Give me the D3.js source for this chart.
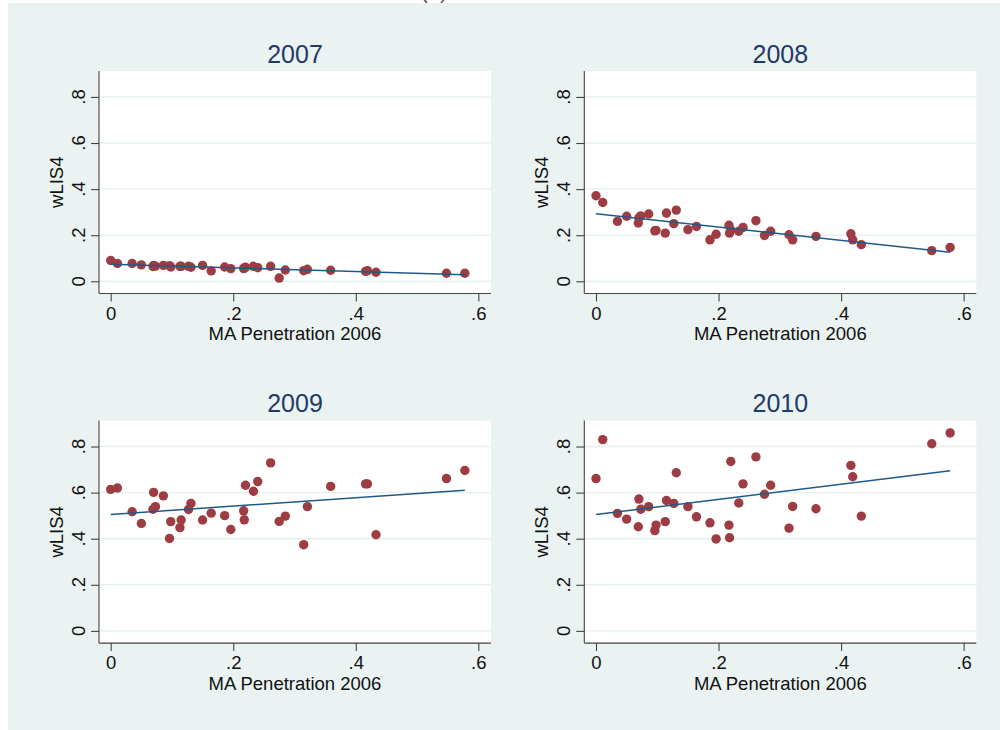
<!DOCTYPE html>
<html>
<head>
<meta charset="utf-8">
<title>wLIS4 vs MA Penetration</title>
<style>
body { margin: 0; background: #fff; }
svg text { font-family: "Liberation Sans", Arial, sans-serif; }
</style>
</head>
<body>
<script src="https://cdn.jsdelivr.net/npm/d3@7"></script>
<script>
// MA penetration 2006 (same counties in each panel)
var maPen = [0.000, 0.011, 0.035, 0.050, 0.069, 0.070, 0.073, 0.086, 0.096, 0.098,
             0.113, 0.115, 0.127, 0.131, 0.150, 0.164, 0.186, 0.196, 0.217, 0.218,
             0.220, 0.233, 0.240, 0.261, 0.275, 0.285, 0.315, 0.321, 0.359, 0.416,
             0.419, 0.433, 0.548, 0.578];

var wlis2007 = [0.090, 0.077, 0.077, 0.071, 0.064, 0.069, 0.066, 0.069, 0.068, 0.062,
                0.065, 0.065, 0.065, 0.061, 0.069, 0.045, 0.062, 0.055, 0.055, 0.058,
                0.061, 0.065, 0.059, 0.065, 0.014, 0.049, 0.046, 0.052, 0.048, 0.043,
                0.046, 0.039, 0.035, 0.035];

var wlis2008 = [0.371, 0.342, 0.260, 0.282, 0.253, 0.275, 0.284, 0.292, 0.219, 0.221,
                0.209, 0.296, 0.250, 0.309, 0.224, 0.238, 0.180, 0.204, 0.243, 0.209,
                0.222, 0.217, 0.234, 0.263, 0.199, 0.217, 0.202, 0.180, 0.195, 0.206,
                0.180, 0.159, 0.133, 0.147];

var wlis2009 = [0.614, 0.620, 0.517, 0.466, 0.528, 0.601, 0.539, 0.586, 0.401, 0.474,
                0.448, 0.481, 0.527, 0.553, 0.481, 0.511, 0.500, 0.440, 0.521, 0.482,
                0.632, 0.606, 0.648, 0.729, 0.475, 0.498, 0.374, 0.539, 0.627, 0.638,
                0.638, 0.417, 0.661, 0.696];

var wlis2010 = [0.661, 0.830, 0.510, 0.485, 0.452, 0.572, 0.528, 0.539, 0.435, 0.459,
                0.474, 0.566, 0.553, 0.686, 0.539, 0.495, 0.469, 0.399, 0.459, 0.404,
                0.735, 0.555, 0.638, 0.755, 0.593, 0.632, 0.446, 0.540, 0.530, 0.718,
                0.669, 0.498, 0.812, 0.859];

var years = ["2007", "2008", "2009", "2010"];
var series = [wlis2007, wlis2008, wlis2009, wlis2010];
var xTicks = [0, 0.2, 0.4, 0.6];
var yTicks = [0, 0.2, 0.4, 0.6, 0.8];
var xTitle = "MA Penetration 2006";
var yTitle = "wLIS4";

var W = 1000, H = 730;
var cols = [99, 584.3], rows = [71, 420.6];
var pw = 392, ph = 222.5;

var fmt = function(d) { return d === 0 ? "0" : String(d).replace(/^0\./, "."); };

var svg = d3.select("body").append("svg")
    .attr("width", W)
    .attr("height", H);

svg.append("rect")
    .attr("x", 8).attr("y", 3)
    .attr("width", W - 8).attr("height", H - 3)
    .attr("fill", "#eaf3f2");

// cut-off caption at top edge
svg.append("text")
    .attr("x", 434).attr("y", -2)
    .attr("text-anchor", "middle")
    .style("font-size", "22px")
    .attr("fill", "#555")
    .text("(a)");

// least squares fit
function lfit(xv, yv) {
    var mx = d3.mean(xv), my = d3.mean(yv);
    var sxy = 0, sxx = 0;
    for (var i = 0; i < xv.length; i++) {
        sxy += (xv[i] - mx) * (yv[i] - my);
        sxx += (xv[i] - mx) * (xv[i] - mx);
    }
    var b = sxy / sxx;
    return { a: my - b * mx, b: b };
}

series.forEach(function(yv, k) {
    var left = cols[k % 2], top = rows[Math.floor(k / 2)];

    var x = d3.scaleLinear().domain([-0.0191, 0.6207]).range([0, pw]);
    var y = d3.scaleLinear().domain([-0.053, 0.9125]).range([ph, 0]);

    var g = svg.append("g").attr("transform", "translate(" + left + "," + top + ")");

    g.append("rect")
        .attr("width", pw).attr("height", ph)
        .attr("fill", "#fff");

    // grid
    g.selectAll(".grid").data(yTicks).enter().append("line")
        .attr("x1", 0).attr("x2", pw)
        .attr("y1", function(d) { return y(d); })
        .attr("y2", function(d) { return y(d); })
        .attr("stroke", "#e6efef")
        .attr("stroke-width", 1.4);

    // axes
    var xAxis = g.append("g")
        .attr("transform", "translate(0," + ph + ")")
        .call(d3.axisBottom(x).tickValues(xTicks).tickFormat(fmt).tickSize(8).tickPadding(5).tickSizeOuter(0));
    xAxis.select(".domain").attr("d", "M0,0H" + pw);
    xAxis.selectAll("text").style("font-size", "18.5px").attr("fill", "#111");

    var yAxis = g.append("g")
        .call(d3.axisLeft(y).tickValues(yTicks).tickFormat("").tickSize(8).tickSizeOuter(0));
    yAxis.select(".domain").attr("d", "M0,0V" + ph);

    g.selectAll("path.domain, .tick line").attr("stroke", "#444").attr("stroke-width", 1.1);

    g.selectAll(".ylab").data(yTicks).enter().append("text")
        .attr("transform", function(d) { return "translate(-14.5," + y(d) + ") rotate(-90)"; })
        .attr("text-anchor", "middle")
        .style("font-size", "18.5px")
        .attr("fill", "#111")
        .text(fmt);

    // titles
    g.append("text")
        .attr("x", pw / 2).attr("y", -8.5)
        .attr("text-anchor", "middle")
        .style("font-size", "25px")
        .attr("fill", "#1f3a68")
        .text(years[k]);

    g.append("text")
        .attr("x", pw / 2).attr("y", ph + 46.5)
        .attr("text-anchor", "middle")
        .style("font-size", "18.5px")
        .attr("fill", "#111")
        .text(xTitle);

    g.append("text")
        .attr("transform", "translate(-36," + ph / 2 + ") rotate(-90)")
        .attr("text-anchor", "middle")
        .style("font-size", "18.5px")
        .attr("fill", "#111")
        .text(yTitle);

    // points
    g.selectAll(".pt").data(maPen).enter().append("circle")
        .attr("cx", function(d) { return x(d); })
        .attr("cy", function(d, i) { return y(yv[i]); })
        .attr("r", 4.7)
        .attr("fill", "#9d3c42");

    // fitted line
    var f = lfit(maPen, yv);
    var ext = d3.extent(maPen);
    g.append("path")
        .attr("d", d3.line()
            .x(function(d) { return x(d); })
            .y(function(d) { return y(f.a + f.b * d); })(ext))
        .attr("fill", "none")
        .attr("stroke", "#1f5a87")
        .attr("stroke-width", 1.5);
});
</script>
</body>
</html>
